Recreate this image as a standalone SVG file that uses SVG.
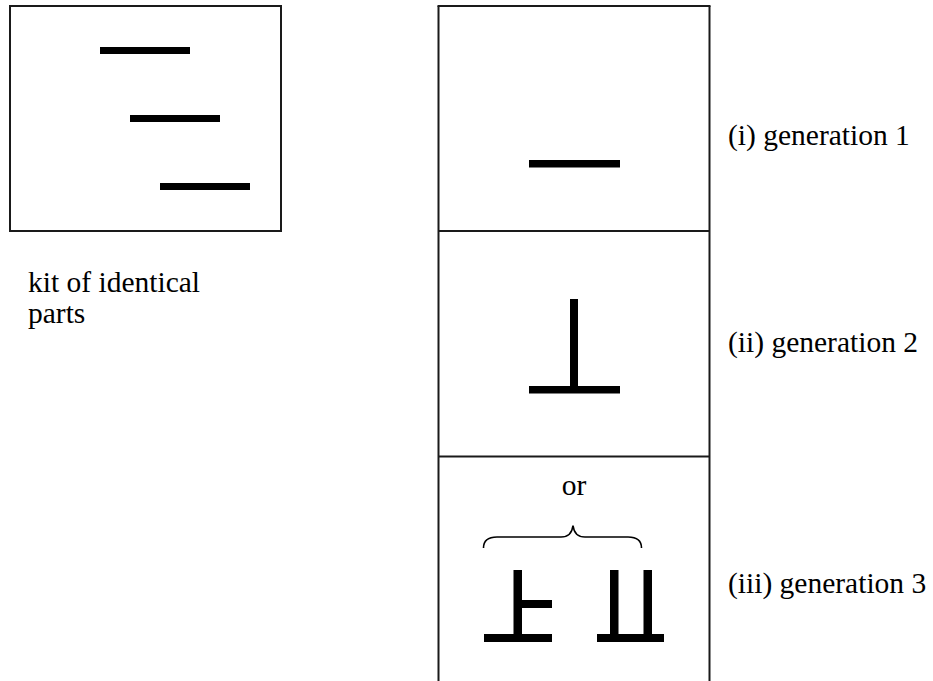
<svg xmlns="http://www.w3.org/2000/svg" width="933" height="681" viewBox="0 0 933 681">
<style>
.frame{fill:none;stroke:#1a1a1a;stroke-width:2}
.bar{fill:#000}
.lbl{font-family:"Liberation Serif","Times New Roman",serif;font-size:29.5px;fill:#000}
.brace{fill:none;stroke:#000;stroke-width:1.6}
</style>
<rect width="933" height="681" fill="#fff"/>
<g id="kit">
<rect class="frame" x="10" y="6" width="271" height="225"/>
<rect class="bar" x="100" y="47" width="90" height="7"/>
<rect class="bar" x="130" y="115" width="90" height="7"/>
<rect class="bar" x="160" y="183" width="90" height="7"/>
<text class="lbl" x="28" y="292">kit of identical</text>
<text class="lbl" x="28" y="323">parts</text>
</g>
<g id="column">
<line class="frame" x1="438.5" y1="681" x2="438.5" y2="6"/>
<line class="frame" x1="437.5" y1="6" x2="710.5" y2="6"/>
<line class="frame" x1="709.5" y1="6" x2="709.5" y2="681"/>
<line class="frame" x1="438.5" y1="231" x2="709.5" y2="231"/>
<line class="frame" x1="438.5" y1="456.5" x2="709.5" y2="456.5"/>
</g>
<g id="gen1">
<rect class="bar" x="529" y="160" width="91" height="7.5"/>
<text class="lbl" x="728" y="145">(i) generation 1</text>
</g>
<g id="gen2">
<rect class="bar" x="529" y="386" width="91" height="7.5"/>
<rect class="bar" x="570" y="299" width="8" height="90"/>
<text class="lbl" x="728" y="352">(ii) generation 2</text>
</g>
<g id="gen3">
<text class="lbl" x="574" y="495" text-anchor="middle">or</text>
<path class="brace" d="M483.5,548 C483.5,540 488,537 497,537 L561,537 C568,537 572,534 573,525.5 C574,534 578,537 585,537 L628,537 C637,537 641.5,540 641.5,548"/>
<rect class="bar" x="513.5" y="570" width="8.5" height="70"/>
<rect class="bar" x="484" y="634" width="68" height="8"/>
<rect class="bar" x="518" y="600" width="34" height="8"/>
<rect class="bar" x="597" y="634" width="67" height="8"/>
<rect class="bar" x="610" y="570" width="8.5" height="70"/>
<rect class="bar" x="643.5" y="570" width="8.5" height="70"/>
<text class="lbl" x="728" y="593">(iii) generation 3</text>
</g>
</svg>
